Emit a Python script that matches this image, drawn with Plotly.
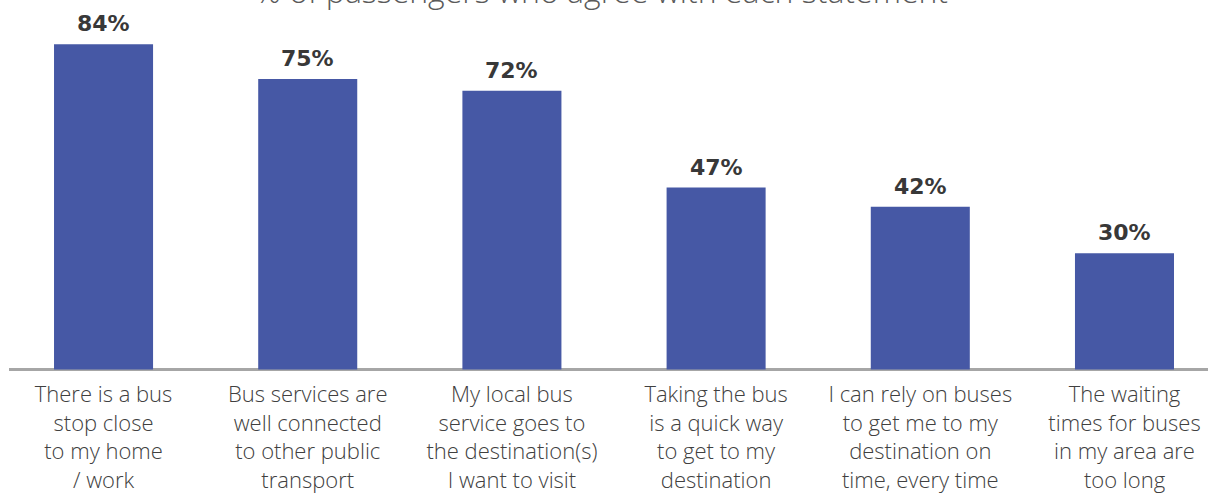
import plotly.graph_objects as go

# Survey statements and share of passengers agreeing (%)
statements = [
    "There is a bus<br>stop close<br>to my home<br>/ work",
    "Bus services are<br>well connected<br>to other public<br>transport",
    "My local bus<br>service goes to<br>the destination(s)<br>I want to visit",
    "Taking the bus<br>is a quick way<br>to get to my<br>destination",
    "I can rely on buses<br>to get me to my<br>destination on<br>time, every time",
    "The waiting<br>times for buses<br>in my area are<br>too long",
]
agree_pct = [84, 75, 72, 47, 42, 30]
title_text = "% of passengers who agree with each statement"

BAR_COLOR = "#4658a5"
AXIS_COLOR = "#a6a6a6"
LABEL_COLOR = "#404040"
VALUE_COLOR = "#383838"
LIGHT_FONT = "Open Sans"

positions = list(range(len(statements)))

fig = go.Figure(
    go.Bar(
        x=positions,
        y=agree_pct,
        width=0.485,
        marker=dict(color=BAR_COLOR, line=dict(width=0)),
        hoverinfo="skip",
    )
)

# Percentage label above each bar
for pos, val in zip(positions, agree_pct):
    fig.add_annotation(
        x=pos, y=val,
        text=f"{val}%",
        xanchor="center", yanchor="bottom",
        yshift=6,
        showarrow=False,
        font=dict(family="DejaVu Sans", size=22, color=VALUE_COLOR, weight="bold"),
    )

fig.add_annotation(
    text=title_text,
    xref="paper", yref="paper",
    x=0.494, y=1,
    xanchor="center", yanchor="bottom",
    yshift=26,
    showarrow=False,
    font=dict(family=LIGHT_FONT, size=32, color="#5a5a5a", weight=300),
)

fig.update_layout(
    width=1208,
    height=493,
    margin=dict(l=9, r=0, t=40, b=122),
    paper_bgcolor="white",
    plot_bgcolor="white",
    showlegend=False,
    xaxis=dict(
        range=[-0.463, 5.409],
        tickmode="array",
        tickvals=positions,
        ticktext=statements,
        tickfont=dict(family=LIGHT_FONT, size=22, color=LABEL_COLOR, weight=300),
        ticklabelstandoff=8,
        showgrid=False,
        zeroline=False,
        showline=False,
        ticks="",
    ),
    yaxis=dict(
        range=[-0.4, 85.1],
        showticklabels=False,
        showgrid=False,
        zeroline=True,
        zerolinecolor=AXIS_COLOR,
        zerolinewidth=3,
        showline=False,
        ticks="",
    ),
)

fig.write_html("out.html")
